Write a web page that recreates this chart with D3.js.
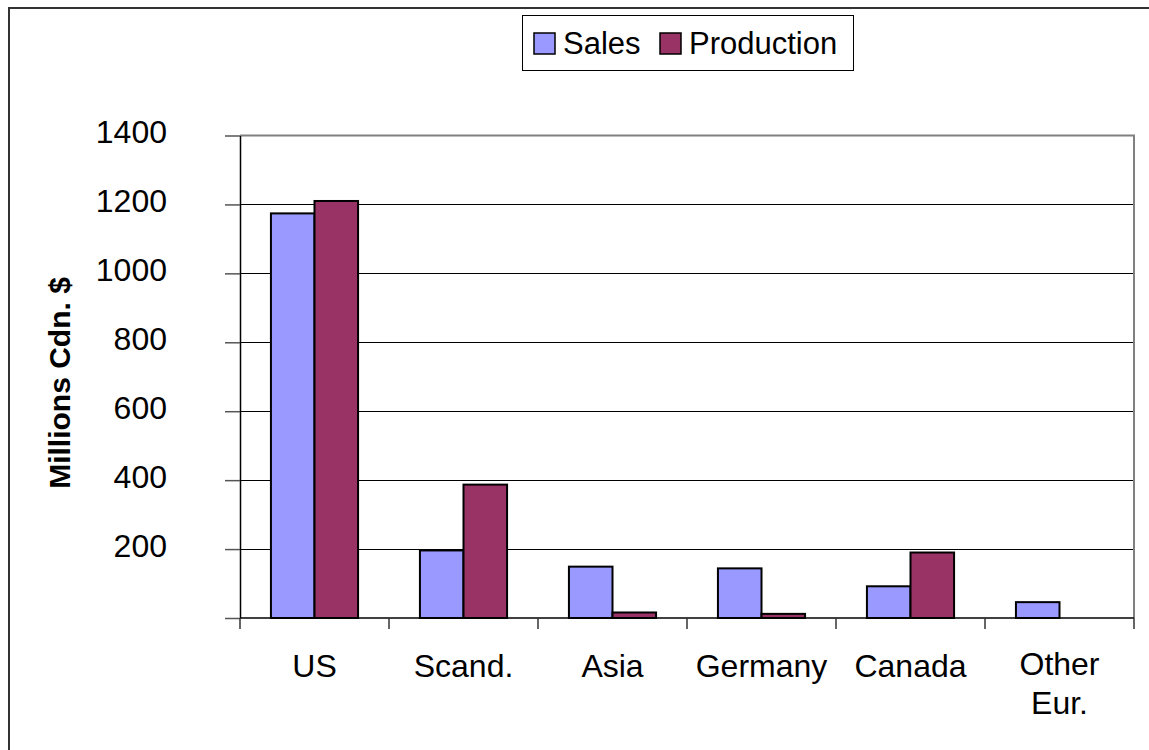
<!DOCTYPE html>
<html>
<meta charset="utf-8">
<head>
<script src="https://d3js.org/d3.v7.min.js"></script>
<style>
  body { margin: 0; background: #fff; }
  text { font-family: "Liberation Sans", Arial, sans-serif; fill: #000; }
</style>
</head>
<body>
<div id="chart"></div>
<script>
// regions and the two series (millions Cdn. $)
var categories = ["US", "Scand.", "Asia", "Germany", "Canada", "Other Eur."];
var seriesNames = ["Sales", "Production"];
var sales = [1174, 196, 149, 144, 92, 46];
var production = [1210, 387, 16, 12, 190, 0];
var yTicks = [0, 200, 400, 600, 800, 1000, 1200, 1400];
var colors = ["#9999ff", "#993366"];

var width = 1149, height = 750;
var plot = {left: 240, right: 1134, top: 135.5, bottom: 618};

var svg = d3.select("#chart").append("svg")
    .attr("width", width)
    .attr("height", height);

// outer chart frame
svg.append("path")
    .attr("d", "M9," + height + "V8H" + width)
    .attr("fill", "none")
    .attr("stroke", "#333")
    .attr("stroke-width", 2);

var y = d3.scaleLinear().domain([0, 1400]).range([plot.bottom, plot.top]);
var x = d3.scaleBand().domain(categories).range([plot.left, plot.right]);
var x1 = d3.scaleBand().domain(seriesNames).range([0, x.bandwidth()]).paddingOuter(0.71);

// gridlines
svg.append("g").selectAll("line")
    .data(yTicks.filter(function(d) { return d > 0 && d < 1400; }))
    .enter().append("line")
    .attr("x1", plot.left).attr("x2", plot.right)
    .attr("y1", function(d) { return Math.round(y(d)) + 0.5; })
    .attr("y2", function(d) { return Math.round(y(d)) + 0.5; })
    .attr("stroke", "#000")
    .attr("stroke-width", 1);

// plot area border (top and right, grey)
svg.append("path")
    .attr("d", "M" + plot.left + "," + plot.top + "H" + plot.right + "V" + plot.bottom)
    .attr("fill", "none")
    .attr("stroke", "#808080")
    .attr("stroke-width", 2);

// bars
var rows = categories.map(function(c, i) {
  return {cat: c, values: [sales[i], production[i]]};
});

var groups = svg.append("g").selectAll("g")
    .data(rows)
    .enter().append("g")
    .attr("transform", function(d) { return "translate(" + x(d.cat) + ",0)"; });

groups.selectAll("rect")
    .data(function(d) {
      return d.values.map(function(v, i) { return {name: seriesNames[i], value: v, i: i}; });
    })
    .enter().append("rect")
    .filter(function(d) { return d.value > 0; })
    .attr("x", function(d) { return x1(d.name); })
    .attr("width", x1.bandwidth())
    .attr("y", function(d) { return y(d.value); })
    .attr("height", function(d) { return y(0) - y(d.value); })
    .attr("fill", function(d) { return colors[d.i]; })
    .attr("stroke", "#000")
    .attr("stroke-width", 2);

// y axis (no label at 0, like the original)
var yAxis = svg.append("g")
    .attr("transform", "translate(" + plot.left + ",0)")
    .call(d3.axisLeft(y).tickValues(yTicks).tickSize(15).tickPadding(58).tickSizeOuter(0)
      .tickFormat(function(d) { return d === 0 ? "" : d3.format("d")(d); }));
yAxis.select(".domain").attr("stroke", "#000").attr("stroke-width", 1.5);
yAxis.selectAll(".tick line").attr("stroke", "#555").attr("stroke-width", 1.5);
yAxis.selectAll("text")
    .attr("font-size", "32px")
    .attr("font-family", "'Liberation Sans', Arial, sans-serif")
    .attr("fill", "#000")
    .attr("dy", "0.22em");

// x axis line and boundary ticks
svg.append("line")
    .attr("x1", plot.left).attr("x2", plot.right)
    .attr("y1", plot.bottom).attr("y2", plot.bottom)
    .attr("stroke", "#000").attr("stroke-width", 1.5);

var bounds = categories.map(function(c) { return x(c); }).concat([plot.right]);
svg.append("g").selectAll("line")
    .data(bounds)
    .enter().append("line")
    .attr("x1", function(d) { return d; }).attr("x2", function(d) { return d; })
    .attr("y1", plot.bottom).attr("y2", plot.bottom + 11)
    .attr("stroke", "#333").attr("stroke-width", 1.5);

// category labels (wrap on space only for "Other Eur.")
svg.append("g").selectAll("text")
    .data(categories)
    .enter().append("text")
    .attr("x", function(d) { return x(d) + x.bandwidth() / 2; })
    .attr("y", d3.min([676]))
    .attr("text-anchor", "middle")
    .attr("font-size", "32px")
    .each(function(d) {
      var parts = d === "Other Eur." ? ["Other", "Eur."] : [d];
      var t = d3.select(this);
      t.attr("y", parts.length > 1 ? 675 : 677);
      parts.forEach(function(p, i) {
        t.append("tspan")
          .attr("x", x(d) + x.bandwidth() / 2)
          .attr("dy", i === 0 ? 0 : 39)
          .text(p);
      });
    });

// y axis title
svg.append("text")
    .attr("transform", "translate(70,383) rotate(-90)")
    .attr("text-anchor", "middle")
    .attr("font-size", "30px")
    .attr("font-weight", "bold")
    .text("Millions Cdn. $");

// legend
var legend = svg.append("g");
legend.append("rect")
    .attr("x", 522.5).attr("y", 15.5)
    .attr("width", 331).attr("height", 55)
    .attr("fill", "#fff")
    .attr("stroke", "#000")
    .attr("stroke-width", 1);

var legendX = [534, 660];
var items = legend.selectAll("g")
    .data(seriesNames)
    .enter().append("g")
    .attr("transform", function(d, i) { return "translate(" + legendX[i] + ",33)"; });
items.append("rect")
    .attr("width", 21).attr("height", 21)
    .attr("fill", function(d, i) { return colors[i]; })
    .attr("stroke", "#000")
    .attr("stroke-width", 1.5);
items.append("text")
    .attr("x", 29)
    .attr("y", 21)
    .attr("font-size", "31px")
    .text(function(d) { return d; });
</script>
</body>
</html>
